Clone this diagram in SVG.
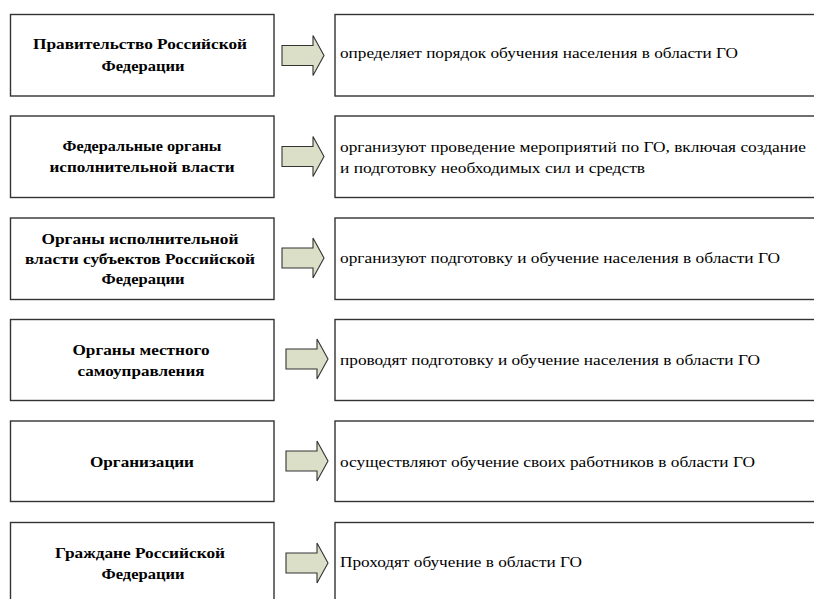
<svg xmlns="http://www.w3.org/2000/svg" width="814" height="599" viewBox="0 0 814 599" font-family="Liberation Serif, Times New Roman, serif">
<style>
.box{fill:#fff;stroke:#333;stroke-width:1.4}
.arr{fill:#dcdfc8;stroke:#333;stroke-width:1.1;stroke-linejoin:miter}
.lt{font-weight:bold;font-size:15.5px;text-anchor:middle;fill:#000}
.rt{font-size:15.5px;fill:#000}
</style>
<rect width="814" height="599" fill="#fff"/>
<defs>
<path id="arrow" d="M0,-10 H31 V-20 L42,0 L31,20 V10 H0 Z"/>
</defs>
<g id="connectors">
<use href="#arrow" class="arr" x="282" y="55.5"/>
<use href="#arrow" class="arr" x="282" y="156.5"/>
<use href="#arrow" class="arr" x="282" y="258"/>
<use href="#arrow" class="arr" x="286" y="359"/>
<use href="#arrow" class="arr" x="286" y="461"/>
<use href="#arrow" class="arr" x="286" y="563"/>
</g>
<g id="n1">
<rect class="box" x="10.5" y="14.5" width="263.5" height="81.5"/>
<text class="lt" x="140" y="49" textLength="214" lengthAdjust="spacingAndGlyphs">Правительство Российской</text>
<text class="lt" x="143" y="71" textLength="83" lengthAdjust="spacingAndGlyphs">Федерации</text>
</g>
<g id="r1">
<rect class="box" x="335" y="14.5" width="500" height="81.5"/>
<text class="rt" x="340" y="58" textLength="398" lengthAdjust="spacingAndGlyphs">определяет порядок обучения населения в области ГО</text>
</g>
<g id="n2">
<rect class="box" x="10.5" y="116" width="263.5" height="81.5"/>
<text class="lt" x="142" y="151" textLength="159" lengthAdjust="spacingAndGlyphs">Федеральные органы</text>
<text class="lt" x="142" y="172" textLength="185" lengthAdjust="spacingAndGlyphs">исполнительной власти</text>
</g>
<g id="r2">
<rect class="box" x="335" y="116" width="500" height="81.5"/>
<text class="rt" x="340" y="152" textLength="466" lengthAdjust="spacingAndGlyphs">организуют проведение мероприятий по ГО, включая создание</text>
<text class="rt" x="340" y="173" textLength="305" lengthAdjust="spacingAndGlyphs">и подготовку необходимых сил и средств</text>
</g>
<g id="n3">
<rect class="box" x="10.5" y="218" width="263.5" height="81.5"/>
<text class="lt" x="140" y="244" textLength="197" lengthAdjust="spacingAndGlyphs">Органы исполнительной</text>
<text class="lt" x="140" y="264" textLength="230" lengthAdjust="spacingAndGlyphs">власти субъектов Российской</text>
<text class="lt" x="143" y="284" textLength="83" lengthAdjust="spacingAndGlyphs">Федерации</text>
</g>
<g id="r3">
<rect class="box" x="335" y="218" width="500" height="81.5"/>
<text class="rt" x="340" y="263" textLength="440" lengthAdjust="spacingAndGlyphs">организуют подготовку и обучение населения в области ГО</text>
</g>
<g id="n4">
<rect class="box" x="10.5" y="319.5" width="263.5" height="81"/>
<text class="lt" x="141" y="355" textLength="137" lengthAdjust="spacingAndGlyphs">Органы местного</text>
<text class="lt" x="141" y="376" textLength="127" lengthAdjust="spacingAndGlyphs">самоуправления</text>
</g>
<g id="r4">
<rect class="box" x="335" y="319.5" width="500" height="81"/>
<text class="rt" x="340" y="365" textLength="420" lengthAdjust="spacingAndGlyphs">проводят подготовку и обучение населения в области ГО</text>
</g>
<g id="n5">
<rect class="box" x="10.5" y="421" width="263.5" height="80.5"/>
<text class="lt" x="142" y="467" textLength="104" lengthAdjust="spacingAndGlyphs">Организации</text>
</g>
<g id="r5">
<rect class="box" x="335" y="421" width="500" height="80.5"/>
<text class="rt" x="340" y="467" textLength="415" lengthAdjust="spacingAndGlyphs">осуществляют обучение своих работников в области ГО</text>
</g>
<g id="n6">
<rect class="box" x="10.5" y="522.5" width="263.5" height="82"/>
<text class="lt" x="140" y="558" textLength="170" lengthAdjust="spacingAndGlyphs">Граждане Российской</text>
<text class="lt" x="143" y="579" textLength="83" lengthAdjust="spacingAndGlyphs">Федерации</text>
</g>
<g id="r6">
<rect class="box" x="335" y="522.5" width="500" height="82"/>
<text class="rt" x="340" y="567" textLength="242" lengthAdjust="spacingAndGlyphs">Проходят обучение в области ГО</text>
</g>
</svg>
